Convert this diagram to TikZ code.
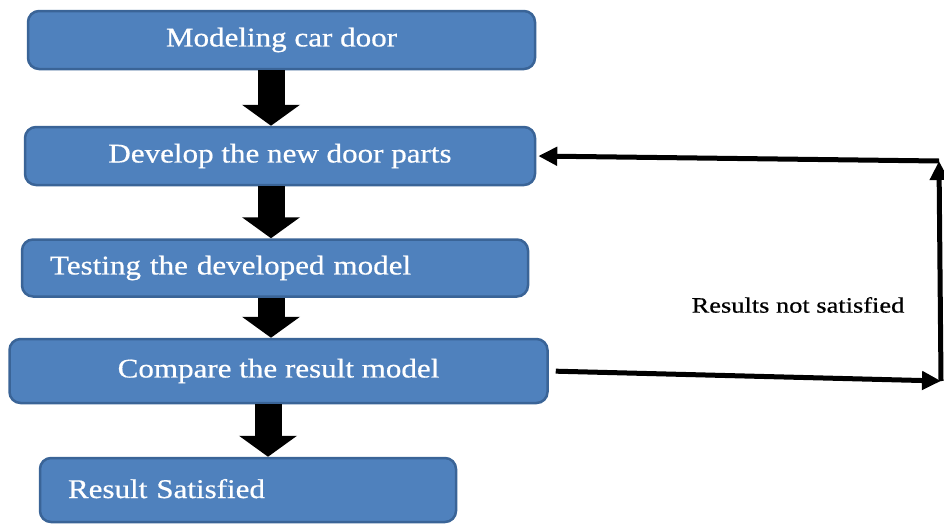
\documentclass[tikz,border=0pt]{standalone}
\usepackage{fontspec}
\setmainfont{Liberation Serif}
\newfontfamily\boxfont[FakeStretch=1.15,FakeBold=0.6]{Liberation Serif}
\newfontfamily\notefont[FakeStretch=1.2,FakeBold=0.6]{Liberation Serif}
\usetikzlibrary{arrows.meta}
\definecolor{boxblue}{HTML}{4F81BD}
\definecolor{boxedge}{HTML}{3A6497}
\tikzset{
  stepbox/.style={draw=boxedge, fill=boxblue, line width=2.5pt, rounded corners=11pt,
    text=white, font=\boxfont\fontsize{27}{30}\selectfont, inner sep=0pt},
  bigarrow/.style={line width=27pt, -{Triangle[width=57pt,length=21pt]}},
  backarrow/.style={line width=5pt, -{Triangle[width=18pt,length=19pt]}}
}
\begin{document}
\begin{tikzpicture}[x=1pt,y=-1pt]
\useasboundingbox (0,0) rectangle (944,525);

% boxes
\node[stepbox, minimum width=507pt, minimum height=58pt] (model) at (281.5,40) {Modeling car door};
\node[stepbox, minimum width=510pt, minimum height=58pt] (develop) at (280,156) {Develop the new door parts};
\node[stepbox, minimum height=57pt, inner xsep=28pt, text width=450pt, align=left] (test) at (275,268) {Testing the developed model};
\node[stepbox, minimum width=538pt, minimum height=64pt] (compare) at (278.5,371) {Compare the result model};
\node[stepbox, minimum height=64pt, inner xsep=28pt, text width=360pt, align=left] (done) at (248,490) {\raisebox{3pt}{Result Satisfied}};

% down arrows
\coordinate (ax) at (271,0);
\draw[bigarrow] (model.south -| ax) -- (develop.north -| ax);
\draw[bigarrow] (develop.south -| ax) -- (test.north -| ax);
\draw[bigarrow] (test.south -| ax) -- (compare.north -| ax);
\draw[bigarrow] ([xshift=-3pt]compare.south -| ax) -- ([xshift=-3pt]done.north -| ax);

% loop back
\coordinate (bot) at (941,381);
\coordinate (top) at (939,161);
\draw[backarrow, shorten <=7pt] (compare.east) -- (bot);
\draw[backarrow] (bot) -- (top);
\draw[backarrow, shorten >=2pt] (top) -- (develop.east);
\node[font=\notefont\fontsize{22}{24}\selectfont] (note) at (798,305) {Results not satisfied};
\end{tikzpicture}
\end{document}
